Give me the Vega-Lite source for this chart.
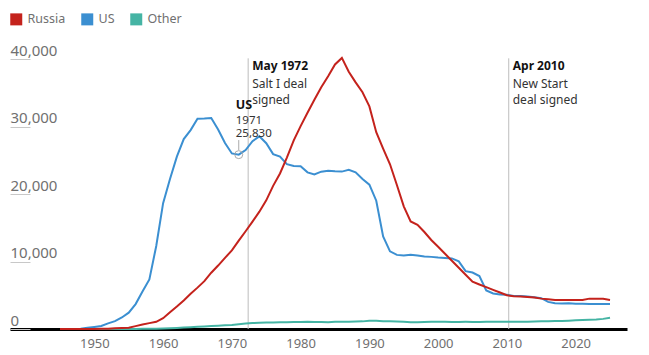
{
  "$schema": "https://vega.github.io/schema/vega-lite/v6.json",
  "width": 617,
  "height": 270,
  "autosize": {"type": "none"},
  "padding": {"left": 10, "top": 59, "right": 22, "bottom": 26},
  "background": "white",
  "config": {"font": "Noto Sans", "view": {"stroke": null}},
  "data": {"values": [
    {"year":1945,"Russia":0,"US":2,"Other":0},
    {"year":1946,"Russia":0,"US":9,"Other":0},
    {"year":1947,"Russia":0,"US":13,"Other":0},
    {"year":1948,"Russia":0,"US":50,"Other":0},
    {"year":1949,"Russia":1,"US":170,"Other":0},
    {"year":1950,"Russia":5,"US":299,"Other":0},
    {"year":1951,"Russia":25,"US":438,"Other":0},
    {"year":1952,"Russia":50,"US":841,"Other":1},
    {"year":1953,"Russia":120,"US":1169,"Other":2},
    {"year":1954,"Russia":150,"US":1703,"Other":5},
    {"year":1955,"Russia":200,"US":2422,"Other":10},
    {"year":1956,"Russia":426,"US":3692,"Other":15},
    {"year":1957,"Russia":660,"US":5543,"Other":20},
    {"year":1958,"Russia":869,"US":7345,"Other":25},
    {"year":1959,"Russia":1060,"US":12298,"Other":45},
    {"year":1960,"Russia":1605,"US":18638,"Other":80},
    {"year":1961,"Russia":2471,"US":22229,"Other":110},
    {"year":1962,"Russia":3322,"US":25540,"Other":160},
    {"year":1963,"Russia":4238,"US":28133,"Other":220},
    {"year":1964,"Russia":5221,"US":29463,"Other":270},
    {"year":1965,"Russia":6129,"US":31139,"Other":330},
    {"year":1966,"Russia":7089,"US":31175,"Other":380},
    {"year":1967,"Russia":8339,"US":31255,"Other":430},
    {"year":1968,"Russia":9399,"US":29561,"Other":480},
    {"year":1969,"Russia":10538,"US":27552,"Other":540},
    {"year":1970,"Russia":11643,"US":26008,"Other":600},
    {"year":1971,"Russia":13092,"US":25830,"Other":700},
    {"year":1972,"Russia":14478,"US":26516,"Other":820},
    {"year":1973,"Russia":15915,"US":27835,"Other":880},
    {"year":1974,"Russia":17385,"US":28537,"Other":920},
    {"year":1975,"Russia":19055,"US":27519,"Other":950},
    {"year":1976,"Russia":21205,"US":25914,"Other":970},
    {"year":1977,"Russia":23044,"US":25542,"Other":990},
    {"year":1978,"Russia":25393,"US":24418,"Other":1010},
    {"year":1979,"Russia":27935,"US":24138,"Other":1030},
    {"year":1980,"Russia":30062,"US":24104,"Other":1050},
    {"year":1981,"Russia":32049,"US":23208,"Other":1080},
    {"year":1982,"Russia":33952,"US":22886,"Other":1040},
    {"year":1983,"Russia":35804,"US":23305,"Other":1030},
    {"year":1984,"Russia":37431,"US":23459,"Other":1010},
    {"year":1985,"Russia":39197,"US":23368,"Other":1060},
    {"year":1986,"Russia":40159,"US":23317,"Other":1080},
    {"year":1987,"Russia":38107,"US":23575,"Other":1090},
    {"year":1988,"Russia":36538,"US":23205,"Other":1100},
    {"year":1989,"Russia":35078,"US":22217,"Other":1130},
    {"year":1990,"Russia":32980,"US":21392,"Other":1220},
    {"year":1991,"Russia":29154,"US":19008,"Other":1230},
    {"year":1992,"Russia":26734,"US":13708,"Other":1150},
    {"year":1993,"Russia":24403,"US":11511,"Other":1130},
    {"year":1994,"Russia":21339,"US":10979,"Other":1100},
    {"year":1995,"Russia":18179,"US":10904,"Other":1080},
    {"year":1996,"Russia":15942,"US":11011,"Other":1010},
    {"year":1997,"Russia":15442,"US":10903,"Other":1000},
    {"year":1998,"Russia":14368,"US":10732,"Other":1030},
    {"year":1999,"Russia":13188,"US":10685,"Other":1060},
    {"year":2000,"Russia":12188,"US":10577,"Other":1080},
    {"year":2001,"Russia":11152,"US":10526,"Other":1060},
    {"year":2002,"Russia":10114,"US":10457,"Other":1040},
    {"year":2003,"Russia":9076,"US":10027,"Other":1050},
    {"year":2004,"Russia":8038,"US":8570,"Other":1060},
    {"year":2005,"Russia":7000,"US":8360,"Other":1050},
    {"year":2006,"Russia":6600,"US":7853,"Other":1050},
    {"year":2007,"Russia":6200,"US":5709,"Other":1060},
    {"year":2008,"Russia":5800,"US":5273,"Other":1060},
    {"year":2009,"Russia":5400,"US":5113,"Other":1070},
    {"year":2010,"Russia":5000,"US":5066,"Other":1060},
    {"year":2011,"Russia":4850,"US":4897,"Other":1070},
    {"year":2012,"Russia":4800,"US":4881,"Other":1080},
    {"year":2013,"Russia":4750,"US":4804,"Other":1090},
    {"year":2014,"Russia":4650,"US":4717,"Other":1110},
    {"year":2015,"Russia":4500,"US":4571,"Other":1130},
    {"year":2016,"Russia":4400,"US":4018,"Other":1150},
    {"year":2017,"Russia":4300,"US":3822,"Other":1170},
    {"year":2018,"Russia":4300,"US":3785,"Other":1200},
    {"year":2019,"Russia":4300,"US":3805,"Other":1240},
    {"year":2020,"Russia":4300,"US":3750,"Other":1300},
    {"year":2021,"Russia":4300,"US":3750,"Other":1340},
    {"year":2022,"Russia":4500,"US":3708,"Other":1360},
    {"year":2023,"Russia":4500,"US":3708,"Other":1400},
    {"year":2024,"Russia":4480,"US":3708,"Other":1500},
    {"year":2025,"Russia":4310,"US":3708,"Other":1680}
  ]},
  "layer": [
    {
      "data": {"values": [{"year": 1972.37}, {"year": 2010.27}]},
      "mark": {"type": "rule", "color": "#bdbdbd", "strokeWidth": 1},
      "encoding": {
        "x": {"field": "year", "type": "quantitative"},
        "y": {"datum": 40100},
        "y2": {"datum": 0}
      }
    },
    {
      "transform": [{"fold": ["Other", "US", "Russia"], "as": ["country", "warheads"]}],
      "mark": {"type": "line", "strokeWidth": 2, "interpolate": "linear"},
      "encoding": {
        "x": {
          "field": "year", "type": "quantitative",
          "scale": {"domain": [1937.73, 2027.47], "nice": false, "zero": false},
          "axis": {
            "values": [1950, 1960, 1970, 1980, 1990, 2000, 2010, 2020],
            "format": "d", "title": null, "grid": false, "ticks": false,
            "domainColor": "#000000", "domainWidth": 3,
            "labelColor": "#707070", "labelFontSize": 13, "labelPadding": 8
          }
        },
        "y": {
          "field": "warheads", "type": "quantitative",
          "scale": {"domain": [0, 40000], "nice": false},
          "axis": {
            "values": [0, 10000, 20000, 30000, 40000],
            "format": ",.0f", "title": null, "grid": false, "domain": false,
            "ticks": true, "tickSize": 20, "tickColor": "#c8c8c8", "offset": -20,
            "labelAlign": "left", "labelBaseline": "alphabetic", "labelPadding": 0,
            "labelOffset": -4, "labelFontSize": 15, "labelColor": "#707070"
          }
        },
        "color": {
          "field": "country", "type": "nominal",
          "scale": {"domain": ["Russia", "US", "Other"], "range": ["#c4221c", "#3b8fd1", "#45b4a4"]},
          "legend": {
            "orient": "none", "legendX": 0, "legendY": -46, "direction": "horizontal",
            "title": null, "symbolType": "square", "symbolSize": 144, "symbolStrokeWidth": 0,
            "labelFontSize": 12.5, "labelColor": "#707070", "labelOffset": 5,
            "columnPadding": 15, "padding": 0,
            "encode": {"symbols": {"update": {"fill": {"scale": "color", "field": "value"}, "stroke": {"value": "transparent"}, "opacity": {"value": 1}}}}
          }
        }
      }
    },
    {
      "data": {"values": [{"year": 1971, "top": 27990, "bottom": 26510, "value": 25830}]},
      "layer": [
        {
          "mark": {"type": "rule", "color": "#aaaaaa", "strokeWidth": 1},
          "encoding": {
            "x": {"field": "year", "type": "quantitative"},
            "y": {"field": "top", "type": "quantitative"},
            "y2": {"field": "bottom"}
          }
        },
        {
          "mark": {"type": "point", "shape": "circle", "filled": false, "stroke": "#aaaaaa", "strokeWidth": 1, "size": 64, "opacity": 1},
          "encoding": {
            "x": {"field": "year", "type": "quantitative"},
            "y": {"field": "value", "type": "quantitative"}
          }
        },
        {
          "mark": {"type": "text", "align": "left", "baseline": "alphabetic", "dx": -3, "dy": -45.6, "fontSize": 12.5, "fontWeight": "bold", "color": "#121212", "text": "US"},
          "encoding": {
            "x": {"field": "year", "type": "quantitative"},
            "y": {"field": "value", "type": "quantitative"}
          }
        },
        {
          "mark": {"type": "text", "align": "left", "baseline": "alphabetic", "dx": -3, "dy": -30.9, "fontSize": 11.5, "lineHeight": 13.3, "color": "#333333", "text": ["1971", "25,830"]},
          "encoding": {
            "x": {"field": "year", "type": "quantitative"},
            "y": {"field": "value", "type": "quantitative"}
          }
        }
      ]
    },
    {
      "data": {"values": [
        {"year": 1972.37, "head": "May 1972", "body": ["Salt I deal", "signed"]},
        {"year": 2010.27, "head": "Apr 2010", "body": ["New Start", "deal signed"]}
      ]},
      "layer": [
        {
          "mark": {"type": "text", "align": "left", "baseline": "alphabetic", "dx": 4, "dy": 11, "fontSize": 12, "fontWeight": "bold", "color": "#121212"},
          "encoding": {
            "x": {"field": "year", "type": "quantitative"},
            "y": {"datum": 40000},
            "text": {"field": "head"}
          }
        },
        {
          "mark": {"type": "text", "align": "left", "baseline": "alphabetic", "dx": 4, "dy": 28.5, "fontSize": 12, "lineHeight": 16.5, "color": "#333333"},
          "encoding": {
            "x": {"field": "year", "type": "quantitative"},
            "y": {"datum": 40000},
            "text": {"field": "body"}
          }
        }
      ]
    }
  ]
}
